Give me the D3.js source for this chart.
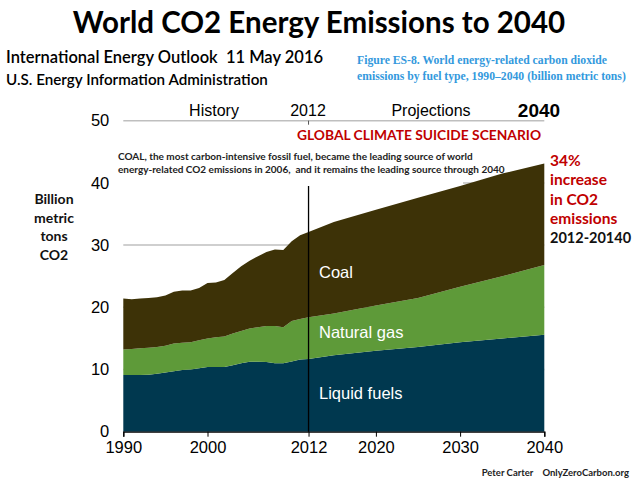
<!doctype html>
<meta charset="utf-8">
<style>
body {
  margin: 0;
  background: #fff;
}
text {
  font-family: "Liberation Sans", Arial, sans-serif;
  white-space: pre;
}
.cal {
  font-family: Lato, "Open Sans", sans-serif;
  font-weight: bold;
}
</style>
<script src="https://cdn.jsdelivr.net/npm/d3@7"></script>
<body>

<script>

var w = 640, h = 480;

// values (billion metric tons)
var years = [1990, 1991, 1992, 1993, 1994, 1995, 1996, 1997, 1998, 1999,
             2000, 2001, 2002, 2003, 2004, 2005, 2006, 2007, 2008, 2009,
             2010, 2011, 2012, 2015, 2020, 2025, 2030, 2035, 2040];
var liquids = [9.1, 9.1, 9.1, 9.15, 9.3, 9.5, 9.7, 9.9, 10.0, 10.2,
               10.4, 10.4, 10.4, 10.7, 11.0, 11.25, 11.25, 11.2, 11.0, 11.0,
               11.3, 11.6, 11.7, 12.3, 13.0, 13.6, 14.4, 15.0, 15.6];
var naturalGas = [4.1, 4.2, 4.3, 4.35, 4.3, 4.3, 4.5, 4.4, 4.4, 4.5,
                  4.6, 4.8, 4.9, 5.1, 5.2, 5.35, 5.55, 5.8, 6.0, 5.8,
                  6.5, 6.5, 6.7, 6.7, 7.3, 7.9, 8.9, 10.0, 11.2];
var coal = [8.2, 8.0, 8.0, 8.0, 8.0, 8.1, 8.3, 8.4, 8.3, 8.4,
            8.9, 8.8, 9.1, 9.7, 10.4, 10.9, 11.4, 11.9, 12.3, 12.4,
            12.8, 13.5, 13.7, 14.7, 15.4, 16.1, 16.2, 16.5, 16.3];

var fuels = ["Liquid fuels", "Natural gas", "Coal"];
var fuelColors = ["#00384f", "#5e9a39", "#3d3207"];
var xTicks = [1990, 2000, 2012, 2020, 2030, 2040];
var yTicks = [0, 10, 20, 30, 40, 50];

var rows = years.map(function(y, i) {
  return {year: y, "Liquid fuels": liquids[i], "Natural gas": naturalGas[i], "Coal": coal[i]};
});

var svg = d3.select("body")
  .append("svg")
    .attr("width", w)
    .attr("height", h)

var x = d3.scaleLinear().domain([1990, 2040]).range([123.3, 544.3]);
var y = d3.scaleLinear().domain([0, 50]).range([431.7, 120.7]);

// headings

svg.append("text")
    .attr("class", "cal")
    .attr("x", 319)
    .attr("y", 33)
    .attr("text-anchor", "middle")
    .style("font-size", "29.5px")
    .text("World CO2 Energy Emissions to 2040");

svg.append("text")
    .attr("class", "cal")
    .attr("x", 6)
    .attr("y", 63)
    .style("font-size", "16.5px")
    .style("font-weight", "600")
    .text("International Energy Outlook  11 May 2016");

svg.append("text")
    .attr("class", "cal")
    .attr("x", 6)
    .attr("y", 85)
    .style("font-size", "15.2px")
    .style("font-weight", "600")
    .text("U.S. Energy Information Administration");

var fig = svg.append("text")
    .attr("x", 357)
    .style("font-family", "'Liberation Serif', serif")
    .style("font-weight", "bold")
    .style("font-size", "11.7px")
    .style("fill", "#3399dd");
fig.append("tspan").attr("x", 357).attr("y", 64)
    .text("Figure ES-8. World energy-related carbon dioxide");
fig.append("tspan").attr("x", 357).attr("y", 80)
    .text("emissions by fuel type, 1990\u20132040 (billion metric tons)");

// gridlines

svg.append("g")
  .selectAll("line")
  .data(yTicks.slice(1))
  .enter().append("line")
    .attr("x1", x(1990))
    .attr("x2", x(2040))
    .attr("y1", function(d) { return y(d); })
    .attr("y2", function(d) { return y(d); })
    .style("stroke", "#bfbfbf")
    .style("stroke-width", 1.5);

svg.append("line")
    .attr("x1", x(2012)).attr("x2", x(2012))
    .attr("y1", y(50)).attr("y2", y(50) + 4)
    .style("stroke", "#555");

// stacked areas

var stack = d3.stack().keys(fuels);
var layers = stack(rows);

var area = d3.area()
    .x(function(d) { return x(d.data.year); })
    .y0(function(d) { return y(d[0]); })
    .y1(function(d) { return y(d[1]); });

svg.append("g")
  .selectAll("path")
  .data(layers)
  .enter().append("path")
    .attr("d", area)
    .style("fill", function(d, i) { return fuelColors[i]; });

// annotation box over the 40 gridline

svg.append("rect")
    .attr("x", 112)
    .attr("y", 146)
    .attr("width", 351)
    .attr("height", 39)
    .style("fill", "#fff");

var note = svg.append("text")
    .attr("class", "cal")
    .style("font-size", "10px")
    .style("fill", "#222");
note.append("tspan").attr("x", 118).attr("y", 160)
    .text("COAL, the most carbon-intensive fossil fuel, became the leading source of world");
note.append("tspan").attr("x", 118).attr("y", 173)
    .text("energy-related CO2 emissions in 2006,  and it remains the leading source through 2040");

svg.append("line")
    .attr("x1", x(2012)).attr("x2", x(2012))
    .attr("y1", 186).attr("y2", y(0))
    .style("stroke", "#000")
    .style("stroke-width", 1.3);

// axes

var xAxis = svg.append("g")
    .attr("transform", "translate(0," + y(0) + ")")
    .call(d3.axisBottom(x).tickValues(xTicks).tickFormat(d3.format("d")).tickSize(5).tickPadding(5));
xAxis.select(".domain").style("stroke", "#000").style("stroke-width", 1.3);
xAxis.selectAll("text")
    .style("font-family", "'Liberation Sans', Arial, sans-serif")
    .style("font-size", "16.5px")
    .style("fill", "#000");

var yAxis = svg.append("g")
    .attr("transform", "translate(" + x(1990) + ",0)")
    .call(d3.axisLeft(y).tickValues(yTicks).tickSize(0).tickPadding(14));
yAxis.select(".domain").remove();
yAxis.selectAll("text")
    .style("font-family", "'Liberation Sans', Arial, sans-serif")
    .style("font-size", "16.5px")
    .style("fill", "#000");

// period labels

svg.append("text").attr("x", 214).attr("y", 116).attr("text-anchor", "middle")
    .style("font-size", "16px").text("History");
svg.append("text").attr("x", 308).attr("y", 116).attr("text-anchor", "middle")
    .style("font-size", "16px").text("2012");
svg.append("text").attr("x", 431).attr("y", 116).attr("text-anchor", "middle")
    .style("font-size", "16px").text("Projections");
svg.append("text").attr("x", 539).attr("y", 117).attr("text-anchor", "middle")
    .style("font-size", "19px").style("font-weight", "bold").text("2040");

svg.append("text")
    .attr("class", "cal")
    .attr("x", 297)
    .attr("y", 140)
    .style("font-size", "13.8px")
    .style("fill", "#c00000")
    .text("GLOBAL CLIMATE SUICIDE SCENARIO");

// layer labels

var labelY = [399, 338, 278];
svg.append("g")
  .selectAll("text")
  .data(fuels)
  .enter().append("text")
    .attr("x", 319)
    .attr("y", function(d, i) { return labelY[i]; })
    .style("font-size", "16.5px")
    .style("fill", "#fff")
    .text(function(d) { return d; });

// y label

var ylab = svg.append("text")
    .attr("class", "cal")
    .attr("text-anchor", "middle")
    .style("font-size", "14px")
    .style("fill", "#111");
["Billion", "metric", "tons", "CO2"].forEach(function(t, i) {
  ylab.append("tspan").attr("x", 54).attr("y", 204 + i * 18.7).text(t);
});

// right side note

var side = svg.append("text")
    .attr("class", "cal")
    .style("font-size", "15.5px");
["34%", "increase", "in CO2", "emissions", "2012-20140"].forEach(function(t, i) {
  side.append("tspan")
      .attr("x", 550)
      .attr("y", 166 + i * 19.3)
      .style("fill", i < 4 ? "#c00000" : "#111")
      .style("font-size", i < 4 ? null : "14.5px")
      .text(t);
});

svg.append("text")
    .attr("class", "cal")
    .attr("x", 629)
    .attr("y", 476)
    .attr("text-anchor", "end")
    .style("font-size", "9.5px")
    .style("fill", "#222")
    .text("Peter Carter    OnlyZeroCarbon.org");

</script>
